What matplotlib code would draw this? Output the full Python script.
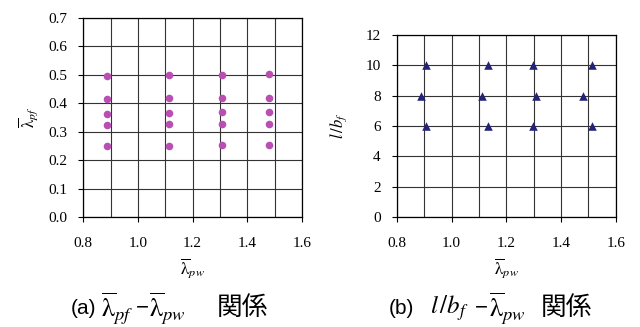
import matplotlib
matplotlib.use("Agg")
import matplotlib.pyplot as plt

plt.rcParams["font.family"] = ["Liberation Serif", "DejaVu Serif"]
plt.rcParams["mathtext.fontset"] = "stix"

# (a) lambda_pf vs lambda_pw
lamPw_a = [0.888] * 5 + [1.113] * 5 + [1.307] * 5 + [1.479] * 5
lamPf_a = [0.496, 0.414, 0.364, 0.323, 0.249,
           0.498, 0.417, 0.367, 0.327, 0.251,
           0.500, 0.418, 0.370, 0.327, 0.253,
           0.502, 0.419, 0.371, 0.328, 0.254]

# (b) l/bf vs lambda_pw
lamPw_b = [0.906, 0.889, 0.906, 1.135, 1.110, 1.135,
           1.296, 1.307, 1.296, 1.512, 1.481, 1.512]
lbf_b = [10, 8, 6, 10, 8, 6, 10, 8, 6, 10, 8, 6]

XTICKS = [0.8, 1.0, 1.2, 1.4, 1.6]
XTICK_LABELS = ["0.8", "1.0", "1.2", "1.4", "1.6"]
YTICKS_A = [0.0, 0.1, 0.2, 0.3, 0.4, 0.5, 0.6, 0.7]
YTICKS_B = [0, 2, 4, 6, 8, 10, 12]

PINK = "#B94FB3"
NAVY = "#232378"
GRID = "#333333"
SANS = ["Liberation Sans", "DejaVu Sans"]
CJK = ["Noto Sans CJK JP", "DejaVu Sans"]


def styleAxes(ax, yticks, ylim):
    ax.set_xlim(0.8, 1.6)
    ax.set_ylim(*ylim)
    ax.set_xticks(XTICKS)
    ax.set_xticklabels(XTICK_LABELS)
    ax.set_xticks([0.9, 1.1, 1.3, 1.5], minor=True)
    ax.set_yticks(yticks)
    ax.tick_params(which="major", direction="out", length=3.5, width=0.8,
                   labelsize=11)
    ax.tick_params(axis="x", pad=11)
    ax.tick_params(axis="y", pad=8)
    ax.tick_params(which="minor", length=0)
    ax.grid(True, which="both", color=GRID, linewidth=0.8)
    ax.set_axisbelow(True)
    for s in ax.spines.values():
        s.set_color("black")
        s.set_linewidth(0.9)


fig = plt.figure(figsize=(6.4, 3.27), dpi=100)

axA = fig.add_axes([0.130, 0.336, 0.342, 0.609])
styleAxes(axA, YTICKS_A, (0.0, 0.7))
axA.set_yticklabels(["%.1f" % v for v in YTICKS_A])
axA.scatter(lamPw_a, lamPf_a, s=30, color=PINK, zorder=3, linewidths=0)
axA.set_xlabel(r"$\overline{\mathrm{\lambda}}_{pw}$", fontsize=12.5, labelpad=4)
axA.set_ylabel(r"$\overline{\mathrm{\lambda}}_{pf}$", fontsize=12, labelpad=6)

axB = fig.add_axes([0.620, 0.336, 0.342, 0.557])
styleAxes(axB, YTICKS_B, (0, 12))
axB.scatter(lamPw_b, lbf_b, s=38, marker="^", color=NAVY, zorder=3,
            linewidths=0)
axB.set_xlabel(r"$\overline{\mathrm{\lambda}}_{pw}$", fontsize=12.5, labelpad=4)
axB.set_ylabel(r"$l\,/b_f$", fontsize=12, labelpad=12)

# captions, built from pieces so the kanji get a CJK font
capY = 0.058


def piece(xpx, s, fs=16, **kw):
    fig.text(xpx / 640.0, capY, s, va="center", ha="left", fontsize=fs, **kw)


piece(71, "(a)", fs=15, family=SANS)
piece(101, r"$\overline{\mathrm{\lambda}}_{pf}$", fs=19, family=SANS)
piece(136, "\u2212", family=SANS)
piece(149, r"$\overline{\mathrm{\lambda}}_{pw}$", fs=19, family=SANS)
piece(217, "関係", fs=18.5, family=CJK)

piece(389, "(b)", fs=15, family=SANS)
piece(430, r"$l\,/b_f$", fs=18, family=SANS)
piece(475, "\u2212", family=SANS)
piece(489, r"$\overline{\mathrm{\lambda}}_{pw}$", fs=19, family=SANS)
piece(541, "関係", fs=18.5, family=CJK)

fig.savefig("out.png", dpi=100)
